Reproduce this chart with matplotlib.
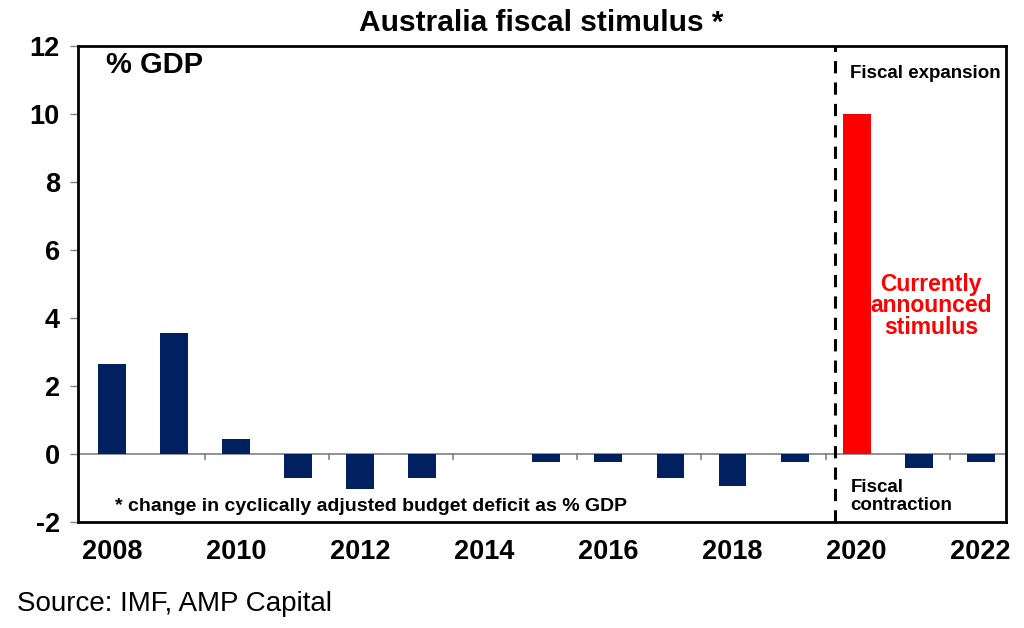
import numpy as np
import matplotlib
matplotlib.use("Agg")
import matplotlib.pyplot as plt

plt.rcParams['font.family'] = ['Liberation Sans', 'DejaVu Sans']
plt.rcParams['axes.unicode_minus'] = False

# cyclically adjusted budget deficit change, % GDP
years = [2008, 2009, 2010, 2011, 2012, 2013, 2014, 2015,
         2016, 2017, 2018, 2019, 2020, 2021, 2022]
values = [2.65, 3.55, 0.45, -0.7, -1.03, -0.7, 0.0, -0.25,
          -0.25, -0.72, -0.95, -0.25, 10.0, -0.42, -0.25]
colors = ['#002060'] * len(years)
colors[years.index(2020)] = '#ff0000'

xtick_years = [2008, 2010, 2012, 2014, 2016, 2018, 2020, 2022]
yticks = [-2, 0, 2, 4, 6, 8, 10, 12]

fig = plt.figure(figsize=(10.24, 6.28), dpi=100)
ax = fig.add_axes([0.076, 0.169, 0.906, 0.758])

ax.bar(years, values, width=0.45, color=colors, zorder=3)
ax.axhline(0, color='#808080', lw=1.2, zorder=2)
# small ticks on the zero line between year pairs
for t in np.arange(2009.5, 2022, 2):
    ax.plot([t, t], [0, -0.15], color='#808080', lw=1.2, zorder=2)

ax.axvline(2019.65, color='black', lw=2.2, ls=(0, (4, 3)), zorder=4)

ax.set_xlim(2007.45, 2022.4)
ax.set_ylim(-2, 12)
ax.set_yticks(yticks)
ax.set_xticks(xtick_years)
ax.tick_params(axis='x', length=0, pad=12)
ax.tick_params(axis='y', length=6, width=1, color='#808080', direction='out', pad=7)
for lab in ax.get_xticklabels() + ax.get_yticklabels():
    lab.set_fontsize(19.5)
    lab.set_fontweight('bold')
for s in ax.spines.values():
    s.set_linewidth(2)
    s.set_color('black')

ax.text(2007.9, 11.45, '% GDP', fontsize=21, fontweight='bold', va='center', ha='left')
ax.text(2008.05, -1.55, '* change in cyclically adjusted budget deficit as % GDP',
        fontsize=14, fontweight='bold', va='center', ha='left')
ax.text(2019.9, 11.2, 'Fiscal expansion', fontsize=13.5, fontweight='bold',
        va='center', ha='left')
ax.text(2019.9, -1.25, 'Fiscal\ncontraction', fontsize=13.5, fontweight='bold',
        va='center', ha='left', linespacing=1.1)
ax.text(2021.2, 4.35, 'Currently\nannounced\nstimulus', fontsize=16.5, fontweight='bold',
        color='#ff0000', va='center', ha='center', linespacing=0.9)

fig.text(0.529, 0.963, 'Australia fiscal stimulus *', fontsize=21.5, fontweight='bold',
         ha='center', va='center')
fig.text(0.017, 0.038, 'Source: IMF, AMP Capital', fontsize=20, ha='left', va='center')

fig.savefig('out.png', dpi=100)
